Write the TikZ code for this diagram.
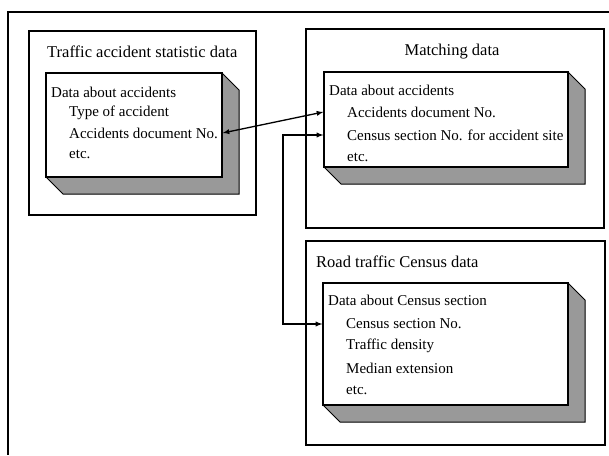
\documentclass[tikz,border=0pt]{standalone}
\usepackage{fontspec}
\setmainfont{Liberation Serif}
\usetikzlibrary{arrows,positioning}

\begin{document}
\begin{tikzpicture}[x=1pt,y=-1pt,
    outerbox/.style={draw,line width=1.2pt,inner sep=0pt},
    front/.style={draw,fill=white,line width=1.2pt,inner sep=0pt},
    bevel/.style={draw,line width=1pt,fill=black!40},
    txt/.style={anchor=west,inner sep=2pt,font=\fontsize{15}{17}\selectfont},
    title/.style={txt,font=\fontsize{16.5}{18}\selectfont},
    link/.style={latex-latex,line width=1.3pt,>=latex}]
            \useasboundingbox (0,0) rectangle (609,455);
            \draw[line width=1.8pt] (609,12) -- (8,12) -- (8,455);

            % traffic accident statistic data
            \node[outerbox,minimum width=227,minimum height=184] (aBox) at (142.5,123) {};
            \node[title] (aTitle) at (45,52) {Traffic accident statistic data};
            \fill[bevel] (46,73) ++(176,0) -- ++(17,17) -- ++(0,104) -- ++(-176,0) -- ++(-17,-17) -- cycle;
            \node[front,minimum width=176,minimum height=104] (aFront) at (134,125) {};
            \node[txt] (aHead) at (49,92) {Data about accidents};
            \node[txt] (aType) at (67,113) {Type of accident};
            \node[txt] (aDoc) at (67,133) {Accidents document No.};
            \node[txt] (aEtc) at (67,154) {etc.};

            % matching data
            \node[outerbox,minimum width=298,minimum height=199] (mBox) at (455,128.5) {};
            \node[title,anchor=center] (mTitle) at (452,52) {Matching data};
            \fill[bevel] (568,72) -- ++(17,17) -- ++(0,95) -- ++(-244,0) -- ++(-17,-17) -- cycle;
            \node[front,minimum width=244,minimum height=95] (mFront) at (446,119.5) {};
            \node[txt] (mHead) at (327,90) {Data about accidents};
            \node[txt] (mDoc) at (345,112) {Accidents document No.};
            \node[txt] (mCen) at (345,135) {Census section No. for accident site};
            \node[txt] (mEtc) at (345,157) {etc.};

            % road traffic census data
            \node[outerbox,minimum width=299,minimum height=204] (rBox) at (455.5,343) {};
            \node[title] (rTitle) at (314,262) {Road traffic Census data};
            \fill[bevel] (568,283) -- ++(17,17) -- ++(0,122) -- ++(-245,0) -- ++(-17,-17) -- cycle;
            \node[front,minimum width=245,minimum height=122] (rFront) at (445.5,344) {};
            \node[txt] (rHead) at (326,300) {Data about Census section};
            \node[txt] (rCen) at (344,324) {Census section No.};
            \node[txt] (rDens) at (344,346) {Traffic density};
            \node[txt] (rMed) at (344,368) {Median extension};
            \node[txt] (rEtc) at (344,390) {etc.};

            \coordinate (bend) at (283,0);
            \draw[link] (aFront.east |- aDoc) -- (mFront.west |- mDoc);
            \draw[link] (mFront.west |- mCen) -- (bend |- mCen) -- (bend |- rCen) -- (rFront.west |- rCen);
          \end{tikzpicture}
\end{document}
